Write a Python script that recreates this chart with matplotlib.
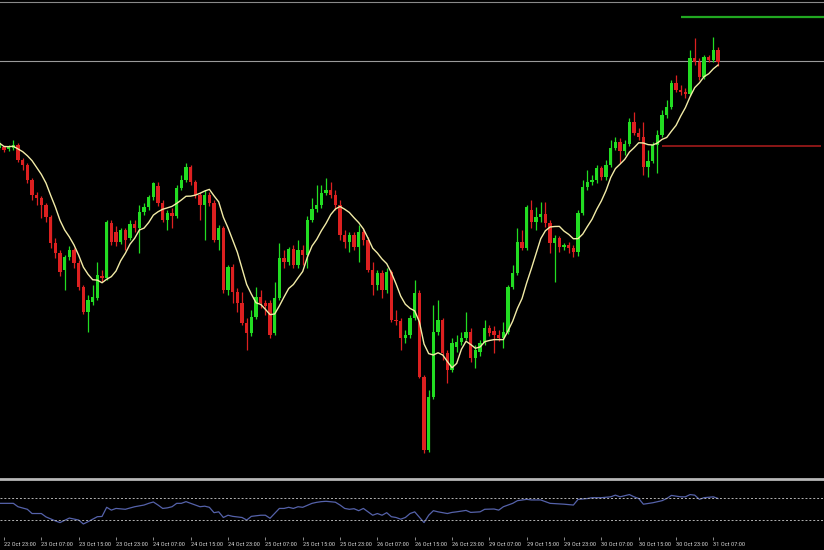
import numpy as np
import pandas as pd
import matplotlib
matplotlib.use('Agg')
import matplotlib.pyplot as plt
from matplotlib import font_manager

# hourly bars, first bar = 22 Oct 22:00, prices in points
opens = [352, 353, 351, 352, 355, 340, 335, 320, 305, 302, 295, 283, 257, 247, 230, 243, 250, 237, 213, 188,
         198, 202, 224, 222, 277, 268, 258, 270, 262, 276, 272, 288, 293, 303, 314, 297, 280, 287, 284, 312,
         320, 333, 318, 305, 295, 305, 297, 260, 272, 210, 233, 208, 197, 177, 167, 183, 203, 197, 197, 167,
         202, 242, 238, 251, 235, 250, 245, 280, 291, 295, 307, 310, 305, 295, 265, 258, 265, 253, 268, 260,
         230, 215, 227, 210, 228, 180, 179, 162, 165, 182, 207, 123, 50, 103, 168, 180, 147, 130, 153, 158,
         162, 168, 142, 148, 157, 172, 169, 165, 162, 168, 213, 227, 258, 252, 290, 278, 283, 286, 277, 257,
         262, 253, 255, 252, 248, 287, 313, 318, 320, 332, 323, 335, 352, 358, 349, 356, 378, 367, 363, 333,
         339, 355, 365, 385, 393, 417, 410, 408, 406, 442, 438, 423, 443, 440, 450]
highs = [360, 354, 355, 360, 357, 342, 337, 322, 308, 304, 297, 285, 262, 250, 245, 254, 252, 240, 215, 205,
         215, 238, 230, 280, 280, 274, 272, 272, 280, 280, 295, 297, 305, 318, 318, 300, 290, 292, 315, 325,
         337, 335, 320, 307, 310, 308, 300, 275, 274, 235, 236, 212, 208, 182, 190, 213, 210, 200, 200, 218,
         257, 250, 253, 255, 260, 255, 284, 302, 315, 315, 322, 318, 310, 300, 270, 268, 268, 275, 272, 263,
         238, 230, 230, 232, 230, 190, 182, 170, 185, 220, 210, 125, 110, 195, 200, 182, 150, 162, 165, 168,
         188, 172, 155, 160, 180, 175, 174, 170, 178, 215, 235, 272, 270, 295, 300, 293, 298, 298, 280, 265,
         264, 257, 258, 255, 290, 320, 330, 325, 335, 334, 340, 360, 363, 362, 360, 382, 388, 372, 378, 350,
         358, 370, 390, 400, 420, 425, 415, 412, 450, 462, 442, 445, 445, 463, 453]
lows = [350, 348, 349, 350, 338, 330, 317, 300, 295, 282, 278, 252, 242, 224, 210, 240, 232, 210, 186, 168,
        195, 200, 218, 220, 255, 254, 256, 250, 260, 268, 247, 285, 290, 300, 294, 278, 270, 272, 282, 310,
        318, 315, 302, 280, 260, 294, 258, 250, 207, 205, 197, 188, 175, 150, 164, 181, 192, 185, 162, 165,
        200, 232, 235, 232, 232, 235, 232, 278, 288, 292, 305, 302, 290, 260, 252, 248, 250, 238, 255, 228,
        205, 210, 202, 207, 178, 175, 150, 157, 162, 180, 122, 47, 48, 101, 165, 140, 117, 128, 148, 155,
        160, 138, 132, 144, 155, 164, 147, 159, 152, 166, 211, 225, 250, 250, 272, 270, 278, 273, 247, 218,
        248, 250, 247, 243, 244, 285, 310, 315, 317, 320, 320, 333, 350, 337, 345, 354, 365, 360, 325, 323,
        337, 327, 363, 382, 391, 408, 405, 402, 404, 435, 420, 421, 438, 438, 434]
closes = [357, 350, 353, 355, 340, 335, 320, 305, 302, 295, 283, 257, 247, 228, 243, 250, 237, 213, 188, 200,
          203, 225, 222, 278, 258, 258, 270, 260, 276, 272, 288, 293, 303, 317, 297, 280, 287, 284, 312, 320,
          333, 318, 305, 295, 305, 297, 260, 272, 210, 233, 208, 197, 177, 167, 183, 203, 197, 194, 165, 202,
          242, 238, 251, 235, 250, 245, 280, 291, 295, 307, 310, 305, 295, 265, 258, 265, 253, 268, 260, 230,
          215, 227, 210, 228, 180, 179, 162, 165, 182, 207, 123, 50, 103, 168, 180, 147, 130, 157, 158, 162,
          168, 142, 150, 157, 172, 167, 165, 162, 168, 213, 227, 258, 252, 293, 278, 283, 286, 277, 257, 262,
          253, 255, 252, 248, 287, 313, 318, 320, 332, 323, 335, 352, 358, 349, 356, 378, 367, 363, 333, 339,
          355, 365, 385, 393, 417, 410, 408, 406, 442, 438, 423, 443, 440, 450, 438]

tick_labels = ['22 Oct 23:00', '23 Oct 07:00', '23 Oct 15:00', '23 Oct 23:00', '24 Oct 07:00',
               '24 Oct 15:00', '24 Oct 23:00', '25 Oct 07:00', '25 Oct 15:00', '25 Oct 23:00',
               '26 Oct 07:00', '26 Oct 15:00', '26 Oct 23:00', '29 Oct 07:00', '29 Oct 15:00',
               '29 Oct 23:00', '30 Oct 07:00', '30 Oct 15:00', '30 Oct 23:00', '31 Oct 07:00']

# oscillator readings (bar, value)
rsi_bar = [0, 3, 4, 6, 7, 9, 10, 12, 13, 15, 17, 18, 19, 21, 22, 23, 24, 25, 27, 28, 29, 31, 32, 33, 34,
           35, 36, 37, 38, 39, 40, 41, 42, 43, 44, 45, 46, 47, 48, 49, 50, 52, 53, 54, 56, 57, 58, 60, 61,
           62, 63, 64, 65, 67, 68, 69, 70, 72, 73, 74, 75, 76, 77, 78, 79, 80, 81, 82, 83, 84, 85, 86, 87,
           88, 89, 91, 92, 93, 94, 96, 97, 98, 100, 101, 103, 104, 106, 107, 108, 110, 111, 113, 114, 116,
           117, 118, 120, 121, 123, 124, 126, 127, 129, 131, 132, 133, 135, 136, 137, 138, 140, 142, 143,
           144, 146, 147, 148, 149, 150, 151, 153, 154]
rsi_val = [60, 60, 54, 49.5, 42, 42, 36, 29, 26, 34, 30.5, 23.5, 27.6, 36.4, 36.8, 53, 48, 51, 49.5, 51.8,
           54, 57, 60, 62.4, 57, 51, 52, 54, 60, 60, 63, 60, 57, 54, 55, 53, 43.5, 45, 35, 39, 37, 35, 30.5,
           37, 39, 39, 33.6, 51, 51, 53, 51, 54, 53, 60, 61.8, 63, 63.6, 62, 57, 51, 49.5, 50.5, 47, 51, 45,
           39, 42, 39, 43.5, 36.4, 35, 32, 35, 42, 45, 26, 39, 47, 45, 42, 44, 45, 47.5, 44, 45, 49.5, 50, 48,
           54, 60, 64.7, 67, 66, 66, 63, 60, 59, 58.5, 57, 67, 68.5, 70, 70, 71.5, 74.5, 71.5, 75.5, 71.5,
           68.5, 58.5, 61, 64.7, 68.5, 74, 71.5, 71.5, 75.5, 74.5, 67, 70, 71.5, 68.5]
rsi_levels = [70, 30]

bid_level = 439
tp_level, tp_from = 483, 146
sl_level, sl_from, sl_to = 354, 142, 176

bull_col = '#22dd22'
bear_col = '#dd2020'

# narrow font for the time scale, if there is one
installed = {f.name for f in font_manager.fontManager.ttflist}
narrow = [f for f in ['Liberation Sans Narrow', 'DejaVu Sans Condensed', 'Roboto Condensed',
                      'Open Sans Condensed'] if f in installed]
if narrow:
    lab_font, lab_size = narrow[0], 4.6
else:
    lab_font, lab_size = 'DejaVu Sans', 3.9

o = np.array(opens, dtype=float)
h = np.array(highs, dtype=float)
l = np.array(lows, dtype=float)
c = np.array(closes, dtype=float)
x = np.arange(len(c))

ma = pd.Series(c).rolling(8, min_periods=1).mean()

fig = plt.figure(figsize=(8.24, 5.5), dpi=100, facecolor='black')
ax = fig.add_axes([0, 71 / 550, 1, 477 / 550], facecolor='black')
ax2 = fig.add_axes([0, 12.7 / 550, 1, 56.6 / 550], facecolor='black', sharex=ax)

up = c >= o
cols = np.where(up, bull_col, bear_col)
body_lo = np.minimum(o, c)
body_h = np.maximum(np.abs(c - o), 0.9)
ax.vlines(x, l, h, colors=cols, lw=0.9, zorder=2)
ax.bar(x, body_h, bottom=body_lo, width=0.7, color=cols, linewidth=0, zorder=3)
ax.plot(x, ma, color='#f2eba6', lw=1.0, zorder=4)

ax.axhline(bid_level, color='#9a9a9a', lw=0.8, zorder=1)
ax.hlines(tp_level, tp_from, 178, color='#21a821', lw=1.6)
ax.hlines(sl_level, sl_from, sl_to, color='#b01e1e', lw=1.1)

ax.set_xlim(0.14, 176.7)
ax.set_ylim(21, 498)
for s in ['left', 'right']:
    ax.spines[s].set_visible(False)
ax.spines['top'].set_color('#8a8a8a')
ax.spines['top'].set_linewidth(0.8)
ax.spines['bottom'].set_color('#b8b8b8')
ax.spines['bottom'].set_linewidth(2.0)
ax.tick_params(left=False, bottom=False, labelleft=False, labelbottom=False)

ax2.plot(rsi_bar, rsi_val, color='#5562aa', lw=0.9)
for lev in rsi_levels:
    ax2.axhline(lev, color='#b4b4b4', lw=0.7, ls=(0, (2, 2)))
ax2.set_ylim(0, 100)
for s in ax2.spines.values():
    s.set_visible(False)
ax2.set_xticks(np.arange(1, 1 + 8 * len(tick_labels), 8))
ax2.set_xticklabels(tick_labels, family=[lab_font, 'DejaVu Sans'], fontsize=lab_size,
                    color='#d0d0d0', ha='left')
ax2.tick_params(axis='x', direction='out', length=2.5, width=0.6, color='#a0a0a0', pad=1)
ax2.tick_params(left=False, labelleft=False)

fig.savefig('out.png', dpi=100, facecolor='black')
